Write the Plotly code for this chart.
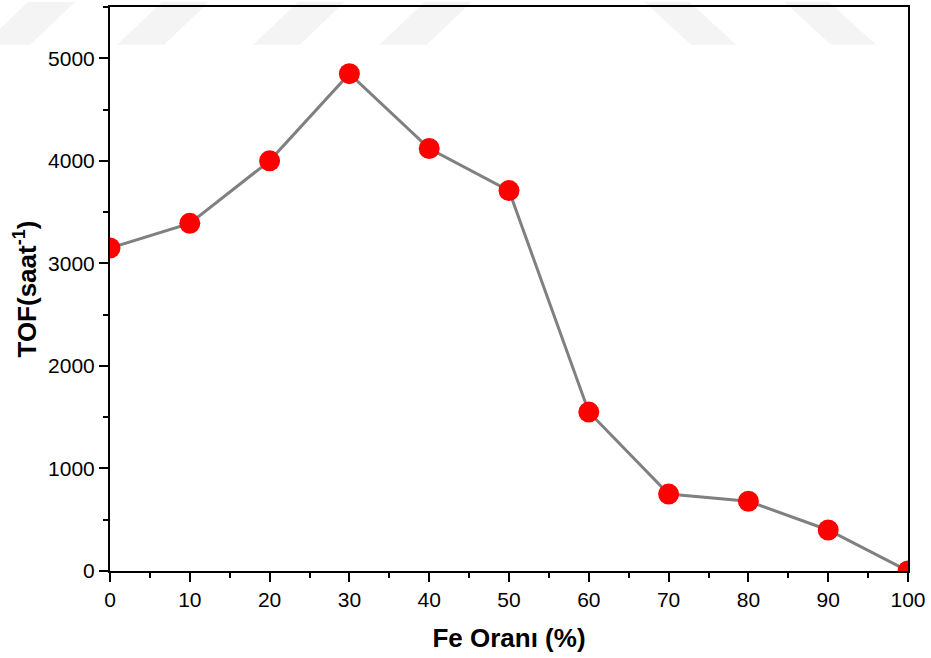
import plotly.graph_objects as go

fe_ratio = [0, 10, 20, 30, 40, 50, 60, 70, 80, 90, 100]
tof = [3150, 3390, 4000, 4850, 4120, 3710, 1550, 750, 680, 400, 0]

x_ticks = [0, 10, 20, 30, 40, 50, 60, 70, 80, 90, 100]
y_ticks = [0, 1000, 2000, 3000, 4000, 5000]

fig = go.Figure()
fig.add_trace(go.Scatter(
    x=fe_ratio, y=tof, mode="lines+markers",
    line=dict(color="#808080", width=3),
    marker=dict(color="#ff0000", size=21, line=dict(width=0)),
    cliponaxis=True, showlegend=False,
))

# faint watermark stripes (decorative background), pixel outlines
wm = "#f4f4f4"
stripes = []
for bx in [-17, 117, 253, 380]:
    stripes.append([(bx, 43), (bx + 47, 43), (bx + 92, 0), (bx + 45, 0)])
for tx in [645, 785]:
    stripes.append([(tx, 0), (tx + 45, 0), (tx + 92, 43), (tx + 47, 43)])

L, R, T, B = 110, 909, 5, 571
def cx(x):
    return (x - L) / (R - L)
def cy(y):
    return (B - y) / (B - T)

shape_objs = []
for pts in stripes:
    p = "M " + " L ".join(f"{cx(x):.4f},{cy(y):.4f}" for x, y in pts) + " Z"
    shape_objs.append(dict(type="path", xref="paper", yref="paper", layer="below",
                           path=p, fillcolor=wm, line=dict(width=0)))

fig.update_layout(
    width=931, height=658,
    margin=dict(l=110, r=22, t=5, b=87),
    plot_bgcolor="white", paper_bgcolor="white",
    font=dict(family="Liberation Sans, Arial, sans-serif", color="black", size=21),
    shapes=shape_objs,
    xaxis=dict(
        range=[0, 100], tickvals=x_ticks, ticks="outside", ticklen=9, tickwidth=2,
        tickcolor="black", showline=True, linecolor="black", linewidth=2, mirror=True,
        showgrid=False, zeroline=False,
        minor=dict(dtick=5, tick0=0, ticks="outside", ticklen=5, tickwidth=2, tickcolor="black"),
        title=dict(text="<b>Fe Oranı (%)</b>", font=dict(size=26), standoff=19),
        tickfont=dict(size=21),
    ),
    yaxis=dict(
        range=[0, 5500], tickvals=y_ticks, ticks="outside", ticklen=9, tickwidth=2,
        tickcolor="black", showline=True, linecolor="black", linewidth=2, mirror=True,
        showgrid=False, zeroline=False,
        minor=dict(dtick=500, tick0=0, ticks="outside", ticklen=5, tickwidth=2, tickcolor="black"),
        title=dict(text="<b>TOF(saat<sup>-1</sup>)</b>", font=dict(size=26), standoff=4),
        tickfont=dict(size=21),
    ),
)

fig.write_html("out.html")
